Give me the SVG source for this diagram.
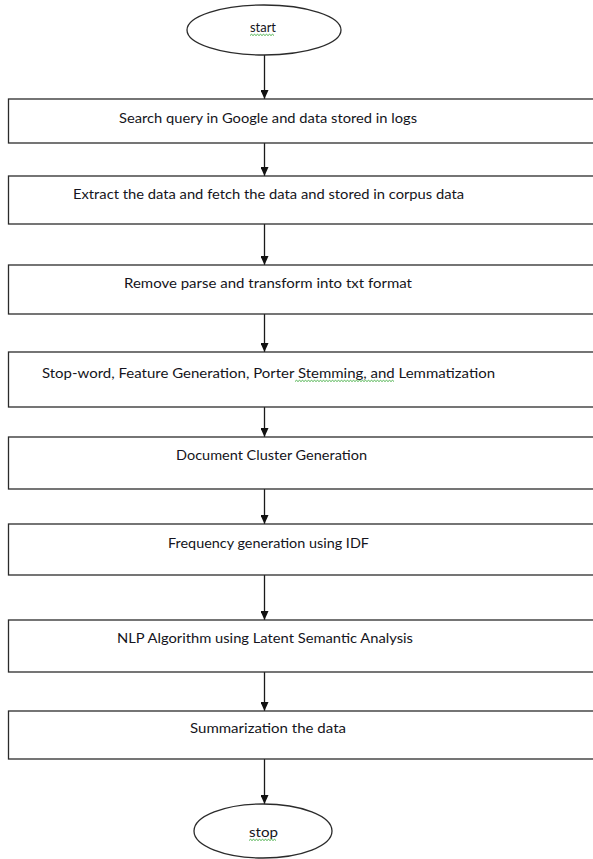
<svg xmlns="http://www.w3.org/2000/svg" width="593" height="859" viewBox="0 0 593 859">
<defs>
<style>
.box{fill:#fff;stroke:#2b2b2b;stroke-width:1.3}
.term{fill:#fff;stroke:#2b2b2b;stroke-width:1.3}
.lbl{font-family:Lato,"Open Sans","Liberation Sans",sans-serif;font-size:14.3px;fill:#141420}
.conn{stroke:#1a1a1a;stroke-width:1.3;fill:none}
.sq{stroke:#3aa83a;stroke-width:0.9;fill:none}
</style>
<marker id="ah" viewBox="0 0 9 8" refX="9" refY="4" markerWidth="9" markerHeight="8" markerUnits="userSpaceOnUse" orient="auto">
<path d="M0,0 L9,4 L0,8 Z" fill="#111"/>
</marker>
</defs>
<rect width="593" height="859" fill="#fff"/>
<g id="connectors">
<path class="conn" d="M264.5,55 V99" marker-end="url(#ah)"/>
<path class="conn" d="M264.5,143 V176" marker-end="url(#ah)"/>
<path class="conn" d="M264.5,224 V265" marker-end="url(#ah)"/>
<path class="conn" d="M264.5,314 V352" marker-end="url(#ah)"/>
<path class="conn" d="M264.5,407 V437" marker-end="url(#ah)"/>
<path class="conn" d="M264.5,489 V524" marker-end="url(#ah)"/>
<path class="conn" d="M264.5,575 V620" marker-end="url(#ah)"/>
<path class="conn" d="M264.5,672 V711" marker-end="url(#ah)"/>
<path class="conn" d="M264.5,759 V804" marker-end="url(#ah)"/>
</g>
<g id="start">
<ellipse class="term" cx="264" cy="30" rx="77" ry="25"/>
<text class="lbl" x="250" y="32" textLength="26" lengthAdjust="spacingAndGlyphs">start</text>
<path class="sq" d="M250,35.5 l1.5,-1.2 l1.5,1.2 l1.5,-1.2 l1.5,1.2 l1.5,-1.2 l1.5,1.2 l1.5,-1.2 l1.5,1.2 l1.5,-1.2 l1.5,1.2 l1.5,-1.2 l1.5,1.2 l1.5,-1.2 l1.5,1.2 l1.5,-1.2 l1.5,1.2"/>
</g>
<g id="n1">
<rect class="box" x="8.5" y="99" width="600" height="44"/>
<text class="lbl" x="119" y="123" textLength="298" lengthAdjust="spacingAndGlyphs">Search query in Google and data stored in logs</text>
</g>
<g id="n2">
<rect class="box" x="8.5" y="176" width="600" height="48"/>
<text class="lbl" x="73" y="199" textLength="391" lengthAdjust="spacingAndGlyphs">Extract the data and fetch the data and stored in corpus data</text>
</g>
<g id="n3">
<rect class="box" x="8.5" y="265" width="600" height="49"/>
<text class="lbl" x="124" y="288" textLength="288" lengthAdjust="spacingAndGlyphs">Remove parse and transform into txt format</text>
</g>
<g id="n4">
<rect class="box" x="8.5" y="352" width="600" height="55"/>
<text class="lbl" x="42" y="378" textLength="453" lengthAdjust="spacingAndGlyphs">Stop-word, Feature Generation, Porter Stemming, and Lemmatization</text>
<path class="sq" d="M295,381.5 l1.5,-1.2 l1.5,1.2 l1.5,-1.2 l1.5,1.2 l1.5,-1.2 l1.5,1.2 l1.5,-1.2 l1.5,1.2 l1.5,-1.2 l1.5,1.2 l1.5,-1.2 l1.5,1.2 l1.5,-1.2 l1.5,1.2 l1.5,-1.2 l1.5,1.2 l1.5,-1.2 l1.5,1.2 l1.5,-1.2 l1.5,1.2 l1.5,-1.2 l1.5,1.2 l1.5,-1.2 l1.5,1.2 l1.5,-1.2 l1.5,1.2 l1.5,-1.2 l1.5,1.2 l1.5,-1.2 l1.5,1.2 l1.5,-1.2 l1.5,1.2 l1.5,-1.2 l1.5,1.2 l1.5,-1.2 l1.5,1.2 l1.5,-1.2 l1.5,1.2 l1.5,-1.2 l1.5,1.2 l1.5,-1.2 l1.5,1.2 l1.5,-1.2 l1.5,1.2 l1.5,-1.2 l1.5,1.2 l1.5,-1.2 l1.5,1.2 l1.5,-1.2 l1.5,1.2 l1.5,-1.2 l1.5,1.2 l1.5,-1.2 l1.5,1.2 l1.5,-1.2 l1.5,1.2 l1.5,-1.2 l1.5,1.2 l1.5,-1.2 l1.5,1.2 l1.5,-1.2 l1.5,1.2 l1.5,-1.2 l1.5,1.2 l1.5,-1.2 l1.5,1.2"/>
</g>
<g id="n5">
<rect class="box" x="8.5" y="437" width="600" height="52"/>
<text class="lbl" x="176" y="460" textLength="191" lengthAdjust="spacingAndGlyphs">Document Cluster Generation</text>
</g>
<g id="n6">
<rect class="box" x="8.5" y="524" width="600" height="51"/>
<text class="lbl" x="168" y="548" textLength="201" lengthAdjust="spacingAndGlyphs">Frequency generation using IDF</text>
</g>
<g id="n7">
<rect class="box" x="8.5" y="620" width="600" height="52"/>
<text class="lbl" x="117" y="643" textLength="296" lengthAdjust="spacingAndGlyphs">NLP Algorithm using Latent Semantic Analysis</text>
</g>
<g id="n8">
<rect class="box" x="8.5" y="711" width="600" height="48"/>
<text class="lbl" x="190" y="733" textLength="156" lengthAdjust="spacingAndGlyphs">Summarization the data</text>
</g>
<g id="stop">
<ellipse class="term" cx="263" cy="831" rx="69" ry="27"/>
<text class="lbl" x="249" y="837" textLength="29" lengthAdjust="spacingAndGlyphs">stop</text>
<path class="sq" d="M249,840.5 l1.5,-1.2 l1.5,1.2 l1.5,-1.2 l1.5,1.2 l1.5,-1.2 l1.5,1.2 l1.5,-1.2 l1.5,1.2 l1.5,-1.2 l1.5,1.2 l1.5,-1.2 l1.5,1.2 l1.5,-1.2 l1.5,1.2 l1.5,-1.2 l1.5,1.2 l1.5,-1.2 l1.5,1.2"/>
</g>
</svg>
